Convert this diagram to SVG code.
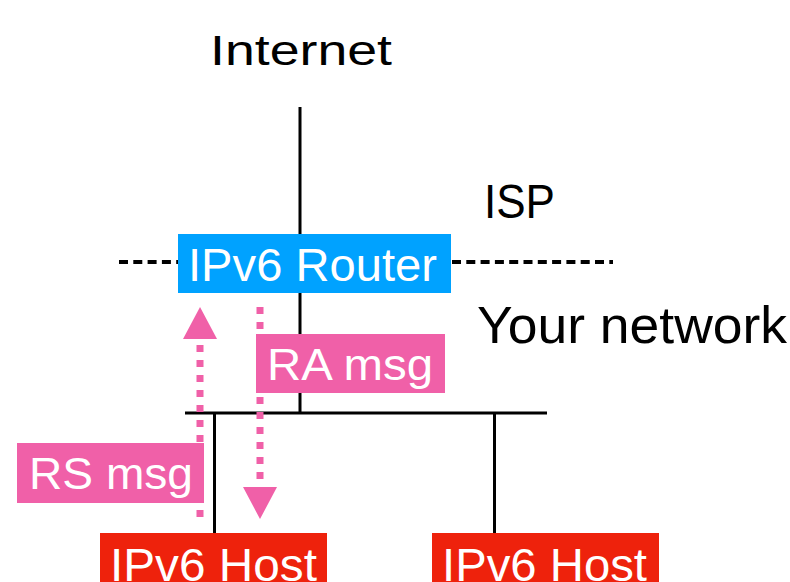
<svg xmlns="http://www.w3.org/2000/svg" width="790" height="582" viewBox="0 0 790 582">
<defs>
<style>
.lbl{font-family:"Liberation Sans","Noto Sans",Arial,sans-serif;fill:#000}
.wt{font-family:"Liberation Sans","Noto Sans",Arial,sans-serif;fill:#fff}
.wire{stroke:#000;stroke-width:3;fill:none}
.dash{stroke:#000;stroke-width:4;stroke-dasharray:9 5.3;fill:none}
.dot{stroke:#f060a8;stroke-width:7;stroke-dasharray:7 8;fill:none}
.head{fill:#f060a8}
</style>
</defs>
<rect width="790" height="582" fill="#fff"/>
<g id="labels">
<text class="lbl" x="210" y="65" font-size="42" textLength="182" lengthAdjust="spacingAndGlyphs">Internet</text>
<text class="lbl" x="484" y="218" font-size="49" textLength="71" lengthAdjust="spacingAndGlyphs">ISP</text>
<text class="lbl" x="477" y="343" font-size="52" textLength="310" lengthAdjust="spacingAndGlyphs">Your network</text>
</g>
<g id="connectors">
<line class="wire" x1="300" y1="107" x2="300" y2="413"/>
<line class="wire" x1="185" y1="413" x2="547" y2="413"/>
<line class="wire" x1="214.5" y1="413" x2="214.5" y2="534"/>
<line class="wire" x1="494.5" y1="413" x2="494.5" y2="534"/>
<line class="dash" x1="119" y1="262" x2="178" y2="262"/>
<line class="dash" x1="452" y1="262" x2="613" y2="262"/>
</g>
<g id="router">
<rect x="178" y="234" width="273" height="59" fill="#00a2ff"/>
<text class="wt" x="188" y="281" font-size="47" textLength="249" lengthAdjust="spacingAndGlyphs">IPv6 Router</text>
</g>
<g id="ra-msg">
<rect x="256" y="334" width="189" height="59" fill="#f060a8"/>
<text class="wt" x="267" y="380" font-size="45" textLength="166" lengthAdjust="spacingAndGlyphs">RA msg</text>
</g>
<g id="rs-msg">
<rect x="17" y="443" width="187" height="60" fill="#f060a8"/>
<text class="wt" x="29" y="489" font-size="45" textLength="164" lengthAdjust="spacingAndGlyphs">RS msg</text>
</g>
<g id="host1">
<rect x="100" y="533" width="227" height="60" fill="#ee220c"/>
<text class="wt" x="110" y="581" font-size="47" textLength="207" lengthAdjust="spacingAndGlyphs">IPv6 Host</text>
</g>
<g id="host2">
<rect x="432" y="533" width="227" height="60" fill="#ee220c"/>
<text class="wt" x="442" y="581" font-size="47" textLength="205" lengthAdjust="spacingAndGlyphs">IPv6 Host</text>
</g>
<g id="messages">
<line class="dot" x1="200" y1="517" x2="200" y2="339"/>
<polygon class="head" points="183,339 217,339 200,307"/>
<line class="dot" x1="260" y1="307" x2="260" y2="487"/>
<polygon class="head" points="243,487 277,487 260,519"/>
</g>
</svg>
